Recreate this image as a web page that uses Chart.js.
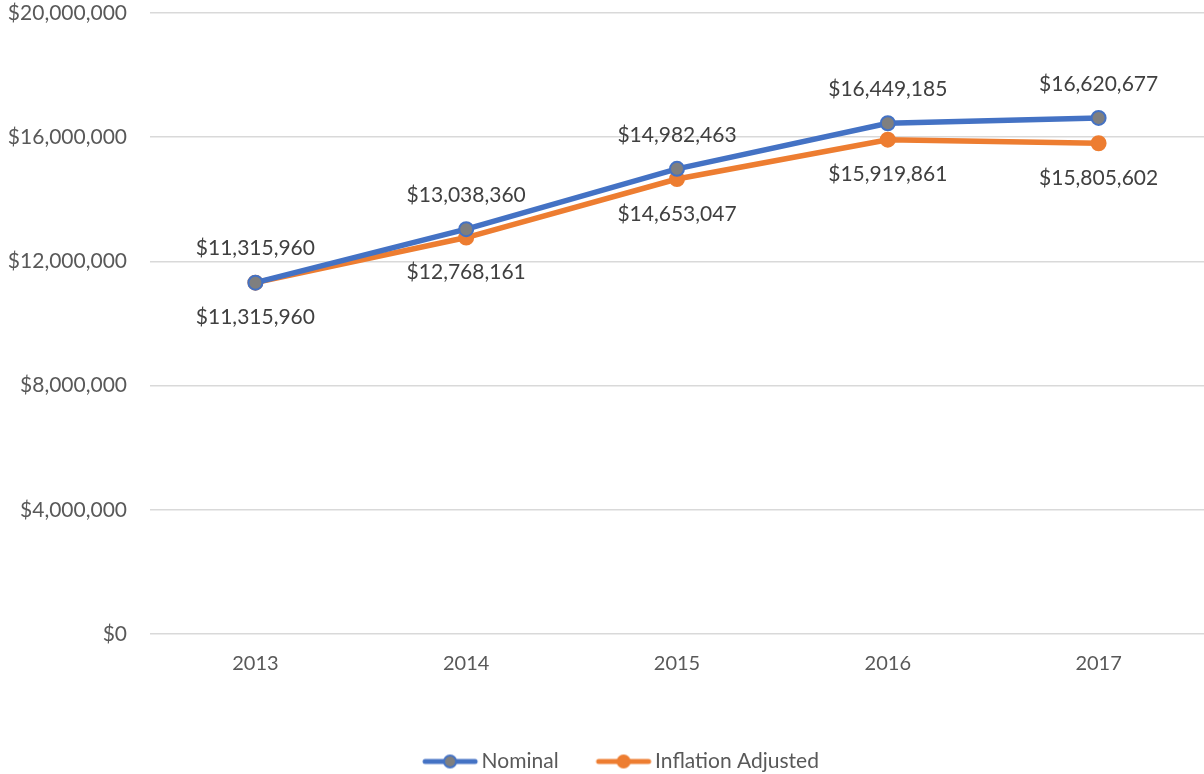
<!DOCTYPE html>
<html>
<head>
<meta charset="utf-8">
<script src="https://cdn.jsdelivr.net/npm/chart.js@4/dist/chart.umd.min.js"></script>
<style>
  html, body { margin: 0; padding: 0; background: #fff; }
  #wrap { width: 1204px; height: 774px; }
</style>
</head>
<body>
<div id="wrap"><canvas id="chart" width="1204" height="774"></canvas></div>
<script>
const years = ['2013', '2014', '2015', '2016', '2017'];
const nominal = [11315960, 13038360, 14982463, 16449185, 16620677];
const inflationAdjusted = [11315960, 12768161, 14653047, 15919861, 15805602];
const yTicks = [0, 4000000, 8000000, 12000000, 16000000, 20000000];

const BLUE = '#4472C4';
const ORANGE = '#ED7D31';
const GREY = '#7F7F7F';
const FONT = 'Lato, "Open Sans", sans-serif';

const money = v => '$' + new Intl.NumberFormat('en-US').format(v);

// legend marker: short line with a dot in the middle, like Excel.
// drawn right of centre so it sits close to its label text
function legendMarker(lineColor, dotColor) {
  const c = document.createElement('canvas');
  c.width = 110; c.height = 16;
  const ctx = c.getContext('2d');
  ctx.strokeStyle = lineColor;
  ctx.lineWidth = 5;
  ctx.lineCap = 'round';
  ctx.beginPath(); ctx.moveTo(52, 8); ctx.lineTo(102, 8); ctx.stroke();
  ctx.beginPath(); ctx.arc(77, 8, 6, 0, Math.PI * 2);
  ctx.fillStyle = dotColor; ctx.fill();
  ctx.lineWidth = 2; ctx.stroke();
  return c;
}

// value labels: first series above the point, second below
const valueLabels = {
  id: 'valueLabels',
  afterDatasetsDraw(chart) {
    const ctx = chart.ctx;
    ctx.save();
    ctx.font = '21px ' + FONT;
    ctx.fillStyle = '#404040';
    ctx.textAlign = 'center';
    ctx.textBaseline = 'middle';
    chart.data.datasets.forEach((ds, i) => {
      const meta = chart.getDatasetMeta(i);
      const off = i === 0 ? -34 : 35;
      meta.data.forEach((pt, j) => {
        ctx.fillText(money(ds.data[j]), pt.x, pt.y + off);
      });
    });
    ctx.restore();
  }
};

new Chart(document.getElementById('chart'), {
  type: 'line',
  data: {
    labels: years,
    datasets: [
      { label: 'Nominal', data: nominal, borderColor: BLUE, backgroundColor: GREY,
        borderWidth: 5.5, pointRadius: 7, pointBorderWidth: 2, pointBorderColor: BLUE,
        pointBackgroundColor: GREY, tension: 0, clip: false },
      { label: 'Inflation Adjusted', data: inflationAdjusted, borderColor: ORANGE, backgroundColor: ORANGE,
        borderWidth: 5.5, pointRadius: 7, pointBorderWidth: 2, pointBorderColor: ORANGE,
        pointBackgroundColor: ORANGE, tension: 0, clip: false }
    ]
  },
  options: {
    responsive: false,
    animation: false,
    layout: { autoPadding: false, padding: { top: 13, right: 0, bottom: -8, left: 0 } },
    plugins: {
      tooltip: { enabled: false },
      legend: {
        position: 'bottom',
        labels: {
          usePointStyle: true,
          pointStyleWidth: 86,
          padding: 0,
          color: '#595959',
          font: { family: FONT, size: 21 },
          generateLabels: chart => chart.data.datasets.map((ds, i) => ({
            text: ds.label,
            datasetIndex: i,
            fontColor: '#595959',
            pointStyle: i === 0 ? legendMarker(BLUE, GREY) : legendMarker(ORANGE, ORANGE),
            lineWidth: 0,
            strokeStyle: 'transparent',
            fillStyle: 'transparent'
          }))
        }
      }
    },
    scales: {
      x: {
        offset: true,
        grid: { display: false, drawTicks: false },
        border: { display: false },
        ticks: { color: '#595959', font: { family: FONT, size: 20 }, padding: 18 },
        afterFit: s => { s.height = 117; s.paddingLeft = 0; s.paddingRight = 0; }
      },
      y: {
        min: 0,
        max: 20000000,
        afterBuildTicks: s => { s.ticks = yTicks.map(v => ({ value: v })); },
        grid: { color: '#D9D9D9', lineWidth: 1.5, drawTicks: false },
        border: { display: false },
        ticks: { color: '#595959', font: { family: FONT, size: 21 }, padding: 23, callback: v => money(v) },
        afterFit: s => { s.width = 150; s.paddingTop = 0; s.paddingBottom = 0; }
      }
    }
  },
  plugins: [valueLabels]
});
</script>
</body>
</html>
